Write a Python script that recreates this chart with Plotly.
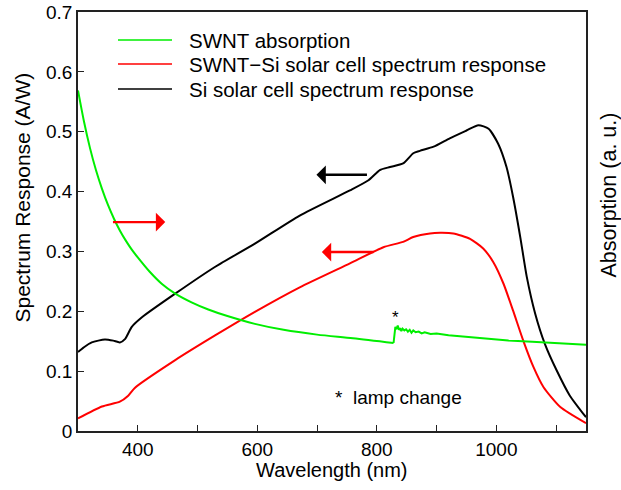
import plotly.graph_objects as go

# ---- data ----
wl_si = [300, 310, 323, 345, 359, 370, 379, 390, 407, 462, 529, 596, 671, 755, 786, 805,
         822, 844, 861, 872, 895, 922, 950, 970, 987, 1003, 1017, 1028, 1040, 1051, 1065,
         1081, 1101, 1123, 1150]
resp_si = [0.132, 0.140, 0.148, 0.153, 0.151, 0.148, 0.154, 0.174, 0.190, 0.229, 0.274,
           0.313, 0.360, 0.402, 0.419, 0.436, 0.441, 0.447, 0.464, 0.468, 0.475, 0.489,
           0.502, 0.511, 0.505, 0.480, 0.441, 0.391, 0.324, 0.257, 0.196, 0.146, 0.101,
           0.059, 0.023]

wl_swnt_si = [300, 340, 370, 384, 395, 462, 530, 596, 671, 755, 811, 844, 861, 889, 906,
              928, 956, 978, 995, 1012, 1028, 1045, 1062, 1079, 1107, 1150]
resp_swnt_si = [0.021, 0.041, 0.049, 0.059, 0.072, 0.118, 0.160, 0.199, 0.240, 0.280,
                0.307, 0.316, 0.324, 0.330, 0.331, 0.330, 0.321, 0.305, 0.282, 0.246,
                0.201, 0.151, 0.107, 0.073, 0.040, 0.013]

# SWNT absorption, before the lamp change (smooth part)
wl_abs_pre = [300, 310, 320, 330, 340, 350, 360, 370, 380, 390, 400, 420, 440, 462, 490,
              518, 550, 596, 644, 700, 760, 828]
abs_pre = [0.569, 0.517, 0.473, 0.436, 0.405, 0.378, 0.355, 0.335, 0.318, 0.303, 0.290,
           0.266, 0.246, 0.230, 0.215, 0.203, 0.192, 0.179, 0.169, 0.161, 0.155, 0.147]
# SWNT absorption, after the lamp change (noisy part)
wl_abs_post = [828, 829, 831, 833, 835, 837, 839, 841, 843, 846, 849, 852, 855, 858, 861,
               865, 870, 875, 880, 890, 900, 920, 950, 984, 1020, 1060, 1100, 1150]
abs_post = [0.147, 0.160, 0.174, 0.170, 0.176, 0.169, 0.172, 0.167, 0.171, 0.168, 0.170,
            0.166, 0.169, 0.164, 0.168, 0.165, 0.166, 0.163, 0.165, 0.162, 0.163, 0.160,
            0.157, 0.154, 0.151, 0.149, 0.147, 0.144]

legend_names = ["SWNT absorption", "SWNT\u2212Si solar cell spectrum response",
                "Si solar cell spectrum response"]
legend_colors = ["#00ee00", "#ff0000", "#000000"]

x_tick_vals = [400, 500, 600, 700, 800, 900, 1000, 1100]
x_tick_text = ["400", "", "600", "", "800", "", "1000", ""]
y_tick_vals = [0, 0.1, 0.2, 0.3, 0.4, 0.5, 0.6, 0.7]
y_tick_text = ["0", "0.1", "0.2", "0.3", "0.4", "0.5", "0.6", "0.7"]

FONT = "Arial, Liberation Sans, sans-serif"
GREEN, RED, BLACK = legend_colors

fig = go.Figure()
fig.add_trace(go.Scatter(x=wl_abs_pre, y=abs_pre, mode="lines", name=legend_names[0],
                         line=dict(color=GREEN, width=2, shape="spline", smoothing=0.8),
                         yaxis="y2", showlegend=False))
fig.add_trace(go.Scatter(x=wl_abs_post, y=abs_post, mode="lines", name=legend_names[0],
                         line=dict(color=GREEN, width=2), yaxis="y2", showlegend=False))
fig.add_trace(go.Scatter(x=wl_swnt_si, y=resp_swnt_si, mode="lines", name=legend_names[1],
                         line=dict(color=RED, width=2, shape="spline", smoothing=0.6),
                         showlegend=False))
fig.add_trace(go.Scatter(x=wl_si, y=resp_si, mode="lines", name=legend_names[2],
                         line=dict(color=BLACK, width=2, shape="spline", smoothing=0.6),
                         showlegend=False))

# plot area in pixels: x 78..586, y 12..431
def px_x(p):
    return (p - 78) / 508.0

def px_y(p):
    return (431 - p) / 419.0

shapes = []
annotations = []
legend_rows_px = [40, 64, 89]
for name, color, row in zip(legend_names, legend_colors, legend_rows_px):
    shapes.append(dict(type="line", xref="paper", yref="paper", x0=px_x(118), x1=px_x(172),
                       y0=px_y(row), y1=px_y(row), line=dict(color=color, width=1.5)))
    annotations.append(dict(x=px_x(187), y=px_y(row), xref="paper", yref="paper",
                            xanchor="left", yanchor="middle", text=name, showarrow=False,
                            font=dict(size=20.5, color="black", family=FONT)))

arrows = [
    dict(x=699, y=0.428, ax=786, ay=0.428, color=BLACK),
    dict(x=708, y=0.299, ax=797, ay=0.299, color=RED),
    dict(x=446, y=0.349, ax=356, ay=0.349, color=RED),
]
for a in arrows:
    annotations.append(dict(x=a["x"], y=a["y"], ax=a["ax"], ay=a["ay"], xref="x", yref="y",
                            axref="x", ayref="y", text="", showarrow=True, arrowhead=1,
                            arrowwidth=2.4, arrowsize=1.3, arrowcolor=a["color"]))
annotations += [
    dict(x=832, y=0.189, xref="x", yref="y", text="*", showarrow=False,
         font=dict(size=17, color="black", family=FONT)),
    dict(x=836, y=0.056, xref="x", yref="y", text="*  lamp change", showarrow=False,
         font=dict(size=19, color="black", family=FONT)),
    dict(x=0.5, y=0, xref="paper", yref="paper", yanchor="middle", yshift=-39,
         text="Wavelength (nm)", showarrow=False,
         font=dict(size=20, color="black", family=FONT)),
    dict(x=0, y=0.5, xref="paper", yref="paper", xanchor="center", yanchor="middle",
         xshift=-56, yshift=24, text="Spectrum Response (A/W)", textangle=-90,
         showarrow=False, font=dict(size=21, color="black", family=FONT)),
    dict(x=1, y=0.5, xref="paper", yref="paper", xanchor="center", yanchor="middle",
         xshift=22, yshift=26, text="Absorption (a. u.)", textangle=-90, showarrow=False,
         font=dict(size=21.5, color="black", family=FONT)),
]

axis_common = dict(showgrid=False, zeroline=False, showline=True, linecolor="#222222",
                   linewidth=1.5, ticks="inside", ticklen=6, tickwidth=1.3,
                   tickcolor="#222222", automargin=False,
                   tickfont=dict(size=19, color="black", family=FONT))

fig.update_layout(
    width=621, height=490,
    margin=dict(l=78, r=35, t=12, b=59, autoexpand=False),
    paper_bgcolor="white", plot_bgcolor="white",
    font=dict(family=FONT, color="black"),
    xaxis=dict(range=[300, 1150], tickvals=x_tick_vals, ticktext=x_tick_text,
               mirror=True, **axis_common),
    yaxis=dict(range=[0, 0.7], tickvals=y_tick_vals, ticktext=y_tick_text,
               mirror=True, **axis_common),
    yaxis2=dict(range=[0, 0.7], overlaying="y", side="right", showticklabels=False,
                showgrid=False, zeroline=False, showline=False, ticks="", automargin=False),
    shapes=shapes,
    annotations=annotations,
    showlegend=False,
)

fig.write_html("out.html")
